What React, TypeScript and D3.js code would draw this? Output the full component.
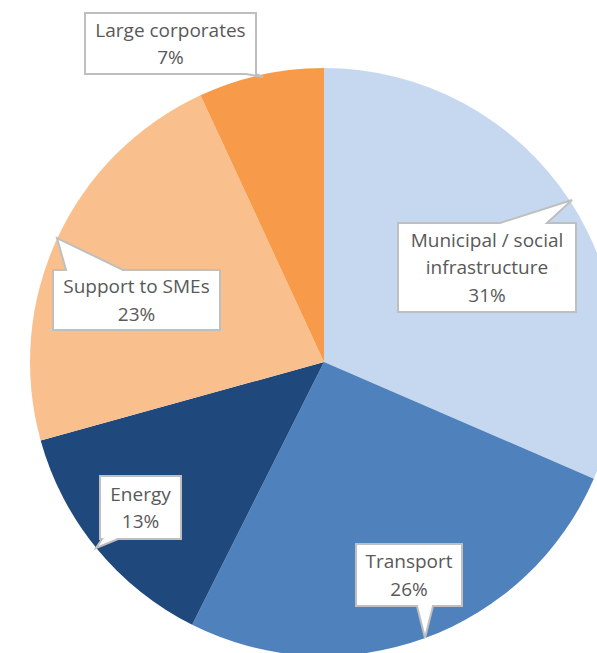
import React from "react";
import * as d3 from "d3";

const categories = ["Municipal / social infrastructure", "Transport", "Energy", "Support to SMEs", "Large corporates"];
// slice sizes
const values = [31.5, 25.9, 13.3, 22.4, 6.9];
// percentages as printed in the labels
const labelPct = ["31%", "26%", "13%", "23%", "7%"];
const colors = ["#C5D8F0", "#4F81BD", "#1F497D", "#F9C08D", "#F79B4A"];

// label layout: box, text lines, tail
type Callout = { x: number; y: number; w: number; h: number; lines: string[]; edge: "top" | "bottom"; a: number; b: number; tx: number; ty: number };
const callouts: Callout[] = [
  { x: 398, y: 223, w: 178, h: 89, lines: ["Municipal / social", "infrastructure"], edge: "top", a: 500, b: 547, tx: 572, ty: 200 },
  { x: 356, y: 544, w: 106, h: 62, lines: ["Transport"], edge: "bottom", a: 417, b: 433, tx: 425, ty: 638 },
  { x: 100, y: 476, w: 81, h: 63, lines: ["Energy"], edge: "bottom", a: 102, b: 118, tx: 96, ty: 548 },
  { x: 53, y: 270, w: 167, h: 60, lines: ["Support to SMEs"], edge: "top", a: 66, b: 123, tx: 57, ty: 238 },
  { x: 85, y: 13, w: 171, h: 61, lines: ["Large corporates"], edge: "bottom", a: 246, b: 256, tx: 263, ty: 77 },
];

function calloutPath(c: Callout) {
  const { x, y, w, h, edge, a, b, tx, ty } = c;
  if (edge === "top") {
    return `M${x},${y} L${a},${y} L${tx},${ty} L${b},${y} L${x + w},${y} L${x + w},${y + h} L${x},${y + h} Z`;
  }
  return `M${x},${y} L${x + w},${y} L${x + w},${y + h} L${b},${y + h} L${tx},${ty} L${a},${y + h} L${x},${y + h} Z`;
}

export default function App() {
  const W = 597, H = 653;
  const cx = 324, cy = 362, r = 294;
  const pie = d3.pie<number>().sort(null).value((d) => d)(values);
  const arc = d3.arc<d3.PieArcDatum<number>>().innerRadius(0).outerRadius(r);
  return (
    <svg width={W} height={H} style={{ position: "absolute", left: 0, top: 0, background: "#fff" }}>
      <g transform={`translate(${cx},${cy})`}>
        {pie.map((p, i) => (
          <path key={categories[i]} d={arc(p) || ""} fill={colors[i]} />
        ))}
      </g>
      {callouts.map((c, i) => {
        const lines = [...c.lines, labelPct[i]];
        const lh = 27.5;
        const mid = c.y + c.h / 2;
        const start = mid - ((lines.length - 1) * lh) / 2;
        return (
          <g key={i}>
            <path d={calloutPath(c)} fill="#fff" stroke="#BFBFBF" strokeWidth={2} strokeLinejoin="miter" />
            {lines.map((t, j) => (
              <text key={j} x={c.x + c.w / 2} y={start + j * lh} dy="0.36em" textAnchor="middle"
                fontFamily="'Open Sans', 'Noto Sans', sans-serif" fontSize={19} fill="#595959">{t}</text>
            ))}
          </g>
        );
      })}
    </svg>
  );
}
